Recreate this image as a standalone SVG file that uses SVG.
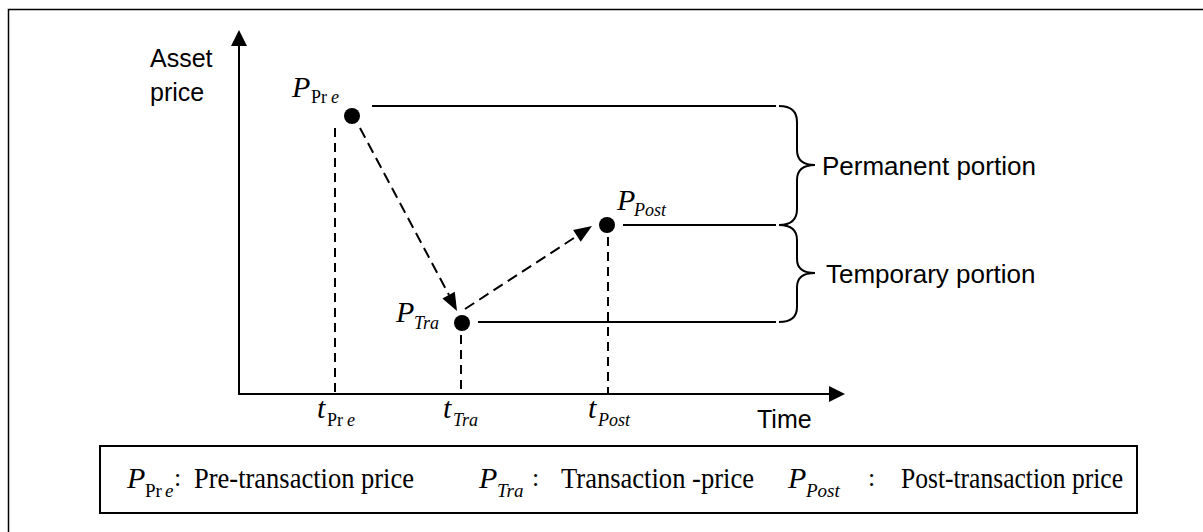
<svg xmlns="http://www.w3.org/2000/svg" width="1203" height="532" viewBox="0 0 1203 532">
<style>
.ln{stroke:#000;stroke-width:2;fill:none}
.dash{stroke:#000;stroke-width:2;fill:none;stroke-dasharray:9,6}
.sans{font-family:"Liberation Sans",Arial,sans-serif;fill:#000}
.serif{font-family:"Liberation Serif","Times New Roman",serif;fill:#000}
.it{font-style:italic}
.dot{fill:#000}
.head{fill:#000}
</style>
<rect x="8.5" y="9.5" width="1210" height="540" fill="none" stroke="#000" stroke-width="1.5"/>
<g id="axes">
<line class="ln" x1="239" y1="395" x2="239" y2="44"/>
<polygon class="head" points="239,30 231,46 247,46"/>
<line class="ln" x1="238" y1="394" x2="830" y2="394"/>
<polygon class="head" points="845,394 829,386 829,402"/>
<text class="sans" x="150" y="67" font-size="25">Asset</text>
<text class="sans" x="150" y="101" font-size="25">price</text>
<text class="sans" x="757" y="428" font-size="25">Time</text>
</g>
<g id="connectors">
<line class="dash" x1="335" y1="128" x2="335" y2="394"/>
<line class="dash" x1="461" y1="335" x2="461" y2="394"/>
<line class="dash" x1="608" y1="237" x2="608" y2="394"/>
<line class="dash" x1="360" y1="128" x2="449" y2="295" style="stroke-dasharray:11,6"/>
<polygon class="head" points="457,311 442.4,298.4 454.8,291.8"/>
<line class="dash" x1="465" y1="309" x2="577" y2="236" style="stroke-dasharray:11,6"/>
<polygon class="head" points="592,226 580.7,241.7 573.1,229.9"/>
<line class="ln" x1="372" y1="106" x2="776" y2="106"/>
<line class="ln" x1="623" y1="225" x2="776" y2="225"/>
<line class="ln" x1="478" y1="322" x2="776" y2="322"/>
</g>
<g id="node-pre">
<circle class="dot" cx="352" cy="116" r="8"/>
<text class="serif it" x="292" y="97" font-size="30">P</text>
<text class="serif" x="311" y="103" font-size="18">Pr</text>
<text class="serif it" x="331" y="103" font-size="18">e</text>
</g>
<g id="node-tra">
<circle class="dot" cx="462" cy="323" r="8"/>
<text class="serif it" x="396" y="322" font-size="30">P</text>
<text class="serif it" x="414" y="329" font-size="18">Tra</text>
</g>
<g id="node-post">
<circle class="dot" cx="607" cy="225" r="8"/>
<text class="serif it" x="617" y="210" font-size="30">P</text>
<text class="serif it" x="634" y="216" font-size="18">Post</text>
</g>
<g id="time-labels">
<text class="serif it" x="317" y="418" font-size="30">t</text>
<text class="serif" x="327" y="426" font-size="18">Pr</text>
<text class="serif it" x="347" y="426" font-size="18">e</text>
<text class="serif it" x="443" y="418" font-size="30">t</text>
<text class="serif it" x="453" y="426" font-size="18">Tra</text>
<text class="serif it" x="588" y="418" font-size="30">t</text>
<text class="serif it" x="598" y="426" font-size="18">Post</text>
</g>
<g id="brace-permanent">
<path class="ln" d="M779,106 Q797,106 797,122 L797,150 Q797,165 815,165 Q797,165 797,180 L797,209 Q797,225 779,225"/>
<text class="sans" x="822" y="175" font-size="26">Permanent portion</text>
</g>
<g id="brace-temporary">
<path class="ln" d="M779,225 Q797,225 797,240 L797,259 Q797,273 815,273 Q797,273 797,287 L797,307 Q797,322 779,322"/>
<text class="sans" x="826" y="283" font-size="26">Temporary portion</text>
</g>
<g id="legend">
<rect x="100" y="446" width="1037" height="67" fill="none" stroke="#000" stroke-width="2"/>
<text class="serif it" x="127" y="488" font-size="30">P</text>
<text class="serif" x="145" y="497" font-size="19">Pr</text>
<text class="serif it" x="165" y="497" font-size="19">e</text>
<text class="serif" x="174" y="486" font-size="26">:</text>
<text class="serif" x="194" y="488" font-size="30" textLength="220" lengthAdjust="spacingAndGlyphs">Pre-transaction price</text>
<text class="serif it" x="479" y="488" font-size="30">P</text>
<text class="serif it" x="497" y="497" font-size="19">Tra</text>
<text class="serif" x="532" y="486" font-size="26">:</text>
<text class="serif" x="561" y="488" font-size="30" textLength="193" lengthAdjust="spacingAndGlyphs">Transaction -price</text>
<text class="serif it" x="788" y="488" font-size="30">P</text>
<text class="serif it" x="806" y="497" font-size="19">Post</text>
<text class="serif" x="868" y="486" font-size="26">:</text>
<text class="serif" x="901" y="488" font-size="30" textLength="222" lengthAdjust="spacingAndGlyphs">Post-transaction price</text>
</g>
</svg>
